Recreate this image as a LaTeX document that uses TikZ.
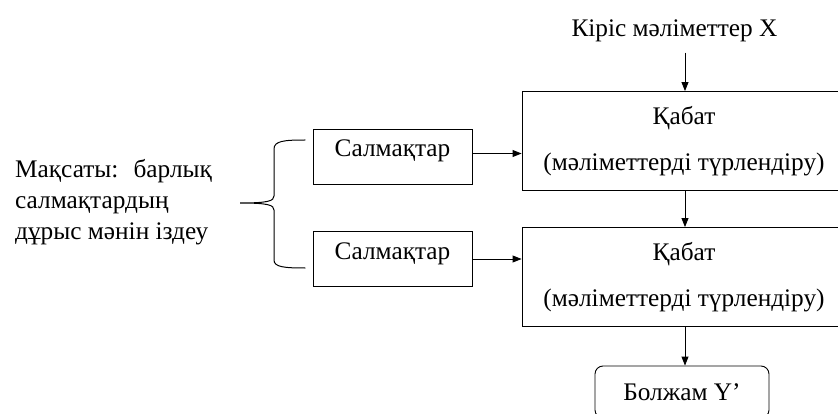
\documentclass[tikz,border=0pt]{standalone}
\usepackage{fontspec}
\setmainfont{Liberation Serif}
\usetikzlibrary{arrows.meta}
\begin{document}
\begin{tikzpicture}[x=1pt,y=-1pt,
  txt/.style={font=\fontsize{25.3}{31}\selectfont},
  box/.style={draw, line width=0.9pt, inner sep=0pt, txt},
  layerbox/.style={box, minimum width=324pt, minimum height=99pt, align=center,
    font=\fontsize{25.3}{46}\selectfont},
  weightbox/.style={box, minimum width=159pt, minimum height=55pt,
    text height=17pt, text depth=17pt},
  arr/.style={-{Triangle[length=9pt,width=7pt]}, line width=0.9pt},
  bracepath/.style={line width=1pt, line cap=round}]
\useasboundingbox (0,0) rectangle (838,414);
\clip (0,0) rectangle (838,414);

% input and processing layers
\node[txt, anchor=base, inner sep=0pt] (inp) at (674.5,37) {Кіріс мәліметтер X};
\node[layerbox] (l1) at (684,141) {Қабат\\(мәліметтерді түрлендіру)};
\node[layerbox] (l2) at (684,277) {Қабат\\(мәліметтерді түрлендіру)};
\node[box, rounded corners=8pt, minimum width=174pt, minimum height=52pt] (out) at (682,392) {Болжам Y’};

% weight blocks
\node[weightbox] (s1) at (392.5,156.5) {Салмақтар};
\node[weightbox] (s2) at (392.5,259) {Салмақтар};

% goal text (base anchor sits on the last line)
\node[txt, anchor=base west, align=left, inner sep=0pt] (goal) at (15,240)
  {Мақсаты:\hspace{0.6em}барлық\\салмақтардың\\дұрыс мәнін іздеу};

% vertical data flow
\coordinate (ax) at (685,0);
\draw[arr] ([yshift=-10pt]inp.south -| ax) -- (ax |- l1.north);
\draw[arr] (ax |- l1.south) -- (ax |- l2.north);
\draw[arr] (ax |- l2.south) -- (ax |- out.north);

% weights feed the layers
\draw[arr] ([yshift=3pt]s1.east) -- ([yshift=3pt]s1.east -| l1.west);
\draw[arr] (s2.east) -- (s2.east -| l2.west);

% curly brace grouping the weights
\coordinate (bt) at (305,140);
\coordinate (bm) at (240,203);
\coordinate (bb) at (305,268);
\draw[bracepath] (bt) .. controls (284,140) and (274,141) .. (274,149)
  -- (274,196) .. controls (274,201) and (268,203) .. (bm)
  .. controls (268,203) and (274,205) .. (274,210)
  -- (274,260) .. controls (274,267) and (284,268) .. (bb);
\end{tikzpicture}
\end{document}
